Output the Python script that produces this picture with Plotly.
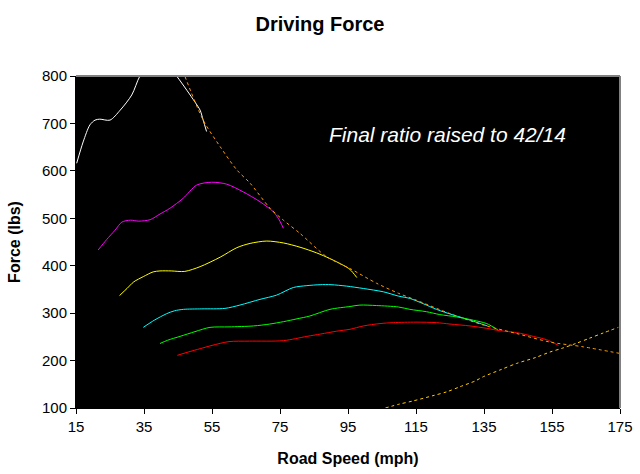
import plotly.graph_objects as go

# ---- data ----
gear1_x = [15.2, 17.1, 19.1, 20.6, 22, 25, 28, 31.4, 33.8, 37, 39.5, 42, 44.6, 47.6, 50, 51.5, 52.4, 53.4]
gear1_y = [616, 661, 697, 707, 709, 707, 728, 760, 800, 830, 835, 825, 800, 770, 745, 728, 707, 683]

gear2_x = [21.5, 24, 26.5, 28.5, 31, 33.5, 36.8, 39.7, 42.6, 46.5, 50.5, 54.9, 59.3, 64.1, 69.1, 73, 74.5, 76]
gear2_y = [433, 455, 475, 492, 496, 494, 497, 509, 521, 542, 570, 576, 572, 556, 535, 514, 500, 479]

gear3_x = [27.8, 30, 32, 34.8, 37.7, 39.7, 43, 47, 51.5, 57.4, 62.3, 66.2, 71.1, 76, 80.9, 85.8, 89.7, 93.6, 95.6, 97.6]
gear3_y = [337, 352, 366, 377, 387, 389, 389, 388, 398, 418, 438, 447, 452, 448, 439, 427, 415, 401, 392, 375]

gear4_x = [34.8, 38, 41.7, 44, 46.6, 52, 58.8, 63.2, 69.1, 74, 78.9, 82.9, 86.8, 90, 94.6, 99.5, 105.4, 109.8, 113.2, 117.1, 121, 126, 131, 136]
gear4_y = [270, 285, 299, 305, 308, 309, 310, 317, 329, 338, 354, 358, 360, 360, 357, 352, 345, 336, 331, 320, 308, 296, 285, 273]

gear5_x = [39.7, 42, 45.6, 50, 54.4, 60, 67.2, 72, 76, 80, 83.8, 89.7, 95.6, 98.5, 103.4, 109.8, 113.2, 118.1, 122, 127, 131.9, 135.8, 139.2]
gear5_y = [236, 243, 251, 261, 270, 271, 273, 277, 282, 288, 294, 308, 314, 317, 316, 313, 308, 303, 297, 292, 285, 278, 264]

gear6_x = [44.8, 48, 51.5, 55, 60, 66, 76, 82.9, 87, 91.7, 95.6, 99.5, 104.4, 108.3, 115, 121, 125, 130.9, 135.8, 139.7, 144.6, 149.5, 153.4, 156.9]
gear6_y = [211, 218, 225, 232, 240, 241, 242, 251, 256, 262, 266, 273, 278, 280, 281, 280, 277, 273, 268, 263, 259, 251, 244, 232]

limit_x = [46.5, 47, 52.4, 57.4, 62.3, 66.2, 72.1, 76, 80.9, 88.7, 95.6, 103.4, 109.8, 115.2, 125, 134.8, 144.6, 154.4, 164.2, 175]
limit_y = [810, 800, 707, 651, 602, 574, 521, 496, 468, 419, 394, 363, 342, 327, 299, 275, 257, 239, 229, 215]

drag_x = [106, 110, 114.2, 120, 124, 128, 132.4, 134.8, 140, 144.6, 150, 154.4, 158, 162, 166, 170, 174.5]
drag_y = [100, 108, 115, 126, 134, 145, 157, 166, 181, 194, 206, 218, 226, 236, 247, 258, 270]

x_ticks = [15, 35, 55, 75, 95, 115, 135, 155, 175]
y_ticks = [100, 200, 300, 400, 500, 600, 700, 800]

gears = [
    (gear1_x, gear1_y, "#FFFFFF"),
    (gear2_x, gear2_y, "#FF00FF"),
    (gear3_x, gear3_y, "#FFFF00"),
    (gear4_x, gear4_y, "#00FFFF"),
    (gear5_x, gear5_y, "#00FF00"),
    (gear6_x, gear6_y, "#FF0000"),
]

fig = go.Figure()
for gx, gy, col in gears:
    fig.add_trace(go.Scatter(x=gx, y=gy, mode="lines",
                             line=dict(color=col, width=1, shape="spline", smoothing=0.8),
                             hoverinfo="skip"))

fig.add_trace(go.Scatter(x=limit_x, y=limit_y, mode="lines",
                         line=dict(color="#FF9900", width=1, dash="3px,3px", shape="spline", smoothing=0.8),
                         hoverinfo="skip"))
fig.add_trace(go.Scatter(x=drag_x, y=drag_y, mode="lines",
                         line=dict(color="#FFCC00", width=1, dash="3px,3px", shape="spline", smoothing=0.8),
                         hoverinfo="skip"))

font_main = "Arial, Liberation Sans, Helvetica, sans-serif"

fig.update_layout(
    width=640, height=474,
    margin=dict(l=76, r=20, t=76, b=66, autoexpand=False),
    paper_bgcolor="white",
    plot_bgcolor="black",
    showlegend=False,
    title=dict(text="<b>Driving Force</b>", x=0.5, xanchor="center", y=1 - 24 / 474, yanchor="middle",
               font=dict(family=font_main, size=20, color="black")),
    font=dict(family=font_main, color="black"),
    xaxis=dict(range=[15, 175], tickmode="array", tickvals=x_ticks, ticktext=[str(v) for v in x_ticks],
               ticks="outside", ticklen=5, tickcolor="black", showgrid=False, zeroline=False,
               showline=True, linecolor="black", linewidth=1, automargin=False,
               tickfont=dict(size=15, color="black"),
               title=dict(text="<b>Road Speed (mph)</b>", font=dict(size=16, color="black"), standoff=18)),
    yaxis=dict(range=[100, 800], tickmode="array", tickvals=y_ticks, ticktext=[str(v) for v in y_ticks],
               ticks="outside", ticklen=5, tickcolor="black", showgrid=False, zeroline=False,
               showline=True, linecolor="black", linewidth=1, automargin=False,
               tickfont=dict(size=15, color="black"),
               title=dict(text="<b>Force (lbs)</b>", font=dict(size=16, color="black"), standoff=17)),
    shapes=[
        dict(type="line", xref="paper", yref="paper", x0=0, x1=1, y0=1, y1=1,
             line=dict(color="#808080", width=2)),
        dict(type="line", xref="paper", yref="paper", x0=1, x1=1, y0=0, y1=1,
             line=dict(color="#808080", width=2)),
    ],
    annotations=[
        dict(text="<i>Final ratio raised to 42/14</i>",
             xref="paper", yref="paper",
             x=(447 - 76) / (620 - 76), y=(408 - 134) / (408 - 76),
             xanchor="center", yanchor="middle", showarrow=False,
             font=dict(size=21, color="white", family=font_main)),
    ],
)

fig.write_html("out.html")
